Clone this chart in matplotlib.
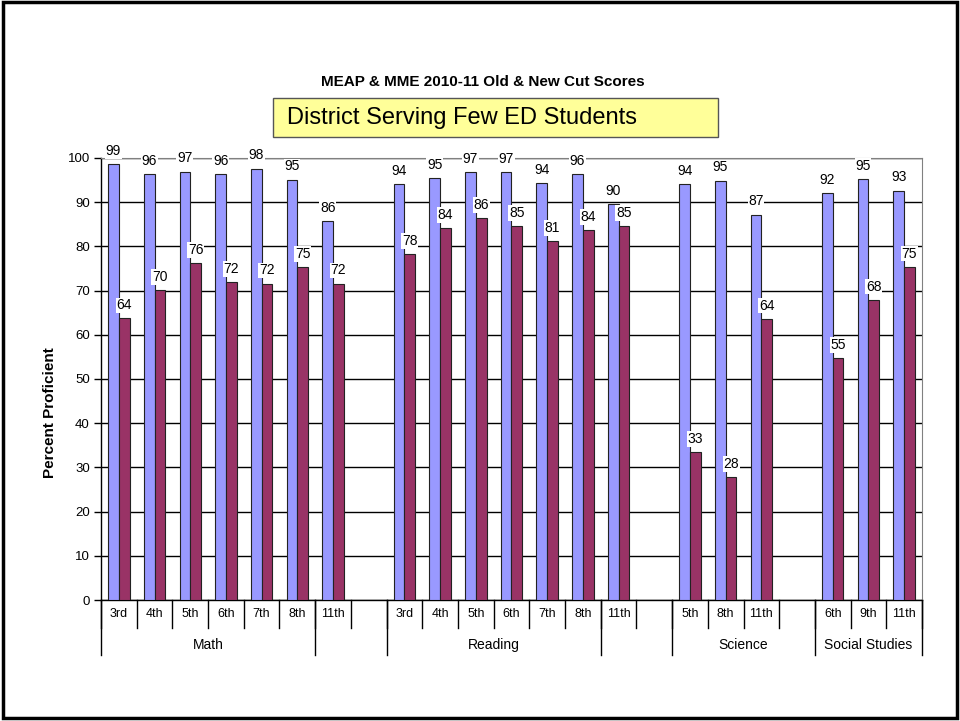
import matplotlib.pyplot as plt
from matplotlib.patches import Rectangle
import numpy as np

plt.rcParams['font.family'] = ['Liberation Sans', 'DejaVu Sans']

# one slot per bar pair, empty slots keep the gaps between subjects
grades = ['3rd', '4th', '5th', '6th', '7th', '8th', '11th', '',
          '3rd', '4th', '5th', '6th', '7th', '8th', '11th', '',
          '5th', '8th', '11th', '',
          '6th', '9th', '11th']
old_cut = [98.6, 96.3, 96.9, 96.3, 97.6, 95.1, 85.7, np.nan,
           94.0, 95.4, 96.8, 96.8, 94.3, 96.3, 89.6, np.nan,
           94.0, 94.9, 87.2, np.nan,
           92.1, 95.3, 92.6]
new_cut = [63.7, 70.1, 76.2, 71.9, 71.6, 75.3, 71.6, np.nan,
           78.2, 84.1, 86.4, 84.6, 81.2, 83.7, 84.6, np.nan,
           33.4, 27.8, 63.6, np.nan,
           54.7, 67.9, 75.4]
subjects = ['Math', '', 'Reading', '', 'Science', 'Social Studies']
subject_slots = [6, 2, 6, 2, 4, 3]

fig = plt.figure(figsize=(9.6, 7.21), dpi=100)
ax = fig.add_axes([0.1052, 0.1678, 0.8552, 0.6131])

x = np.arange(len(grades))
w = 0.3
ax.bar(x - w / 2, old_cut, w, color='#9999FF', edgecolor='#222222', linewidth=0.8, zorder=3)
ax.bar(x + w / 2, new_cut, w, color='#993366', edgecolor='#222222', linewidth=0.8, zorder=3)

for xi, v in zip(x, old_cut):
    if not np.isnan(v):
        ax.text(xi - w / 2, v + 1.4, '%d' % round(v), ha='center', va='bottom', fontsize=10,
                zorder=5, bbox=dict(facecolor='white', edgecolor='none', pad=0.5))
for xi, v in zip(x, new_cut):
    if not np.isnan(v):
        ax.text(xi + w / 2, v + 1.4, '%d' % round(v), ha='center', va='bottom', fontsize=10,
                zorder=5, bbox=dict(facecolor='white', edgecolor='none', pad=0.5))

ax.set_xlim(-0.5, len(grades) - 0.5)
ax.set_ylim(0, 100)
ax.set_yticks(range(0, 101, 10))
ax.tick_params(axis='y', direction='out', length=5, width=1, labelsize=9.5, pad=3)
ax.set_xticks([])
ax.grid(axis='y', color='black', linewidth=1, zorder=1)
ax.set_axisbelow(True)
for side in ['top', 'right']:
    ax.spines[side].set_color('#808080')
ax.spines['left'].set_linewidth(1)
ax.spines['bottom'].set_linewidth(1)
ax.set_ylabel('Percent Proficient', fontsize=11, fontweight='bold')
ax.yaxis.set_label_coords(-0.0536, 0.423)

# two-tier category axis
trans = ax.get_xaxis_transform()
for b in np.arange(len(grades) + 1) - 0.5:
    ax.plot([b, b], [0, -0.0633], transform=trans, color='black', lw=1, clip_on=False)
for xi, g in zip(x, grades):
    ax.text(xi, -0.0317, g, transform=trans, ha='center', va='center', fontsize=9)
start = -0.5
ax.plot([start, start], [0, -0.1244], transform=trans, color='black', lw=1, clip_on=False)
for name, n in zip(subjects, subject_slots):
    end = start + n
    ax.plot([end, end], [0, -0.1244], transform=trans, color='black', lw=1, clip_on=False)
    ax.text((start + end) / 2, -0.1018, name, transform=trans, ha='center', va='center', fontsize=10)
    start = end

fig.text(0.503, 0.886, 'MEAP & MME 2010-11 Old & New Cut Scores', ha='center', va='center',
         fontsize=11, fontweight='bold')
fig.patches.append(Rectangle((0.2844, 0.810), 0.464, 0.0541, transform=fig.transFigure,
                             facecolor='#FFFF99', edgecolor='#555555', linewidth=1))
fig.text(0.299, 0.837, 'District Serving Few ED Students', ha='left', va='center', fontsize=17)

fig.patches.append(Rectangle((0.003, 0.004), 0.994, 0.993, transform=fig.transFigure,
                             facecolor='none', edgecolor='black', linewidth=2.5))

plt.savefig('out.png', dpi=100)
